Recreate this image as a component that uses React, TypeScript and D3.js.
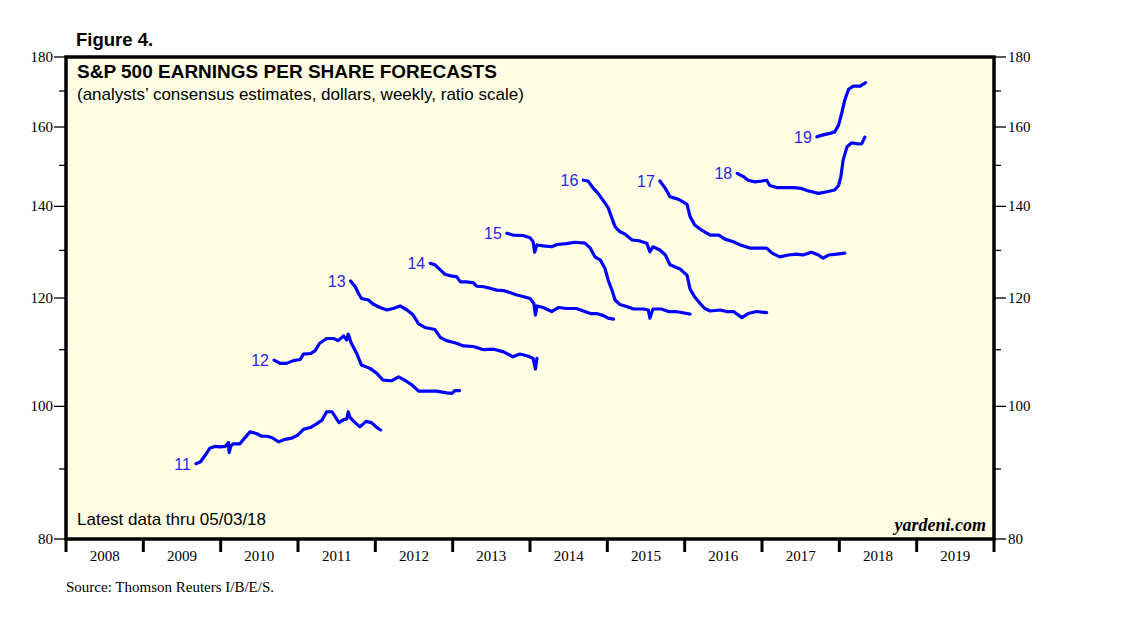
import React from 'react';
import * as d3 from 'd3';

type Pt = [number, number]; // [year, EPS estimate in dollars]

// weekly consensus estimates
const eps2011: Pt[] = [
  [2009.68, 90.8], [2009.74, 91.1], [2009.80, 92.1], [2009.86, 93.2], [2009.93, 93.5],
  [2009.99, 93.4], [2010.06, 93.5], [2010.10, 94.1], [2010.11, 92.5], [2010.13, 93.5],
  [2010.16, 93.9], [2010.25, 93.9], [2010.31, 94.8], [2010.38, 95.8], [2010.47, 95.5],
  [2010.53, 95.1], [2010.60, 95.1], [2010.66, 94.9], [2010.75, 94.2], [2010.83, 94.6],
  [2010.92, 94.8], [2011.00, 95.3], [2011.07, 96.2], [2011.16, 96.5], [2011.24, 97.1],
  [2011.31, 97.7], [2011.37, 99.1], [2011.44, 99.1], [2011.48, 98.3], [2011.53, 97.3],
  [2011.59, 97.8], [2011.63, 97.9], [2011.65, 99.1], [2011.67, 98.2], [2011.72, 97.5],
  [2011.80, 96.6], [2011.88, 97.5], [2011.95, 97.3], [2012.02, 96.5], [2012.07, 96.1],
];

const eps2012: Pt[] = [
  [2010.69, 108.1], [2010.77, 107.5], [2010.85, 107.5], [2010.94, 108.0], [2011.03, 108.2],
  [2011.07, 109.2], [2011.16, 109.3], [2011.22, 109.8], [2011.28, 111.2], [2011.37, 112.1],
  [2011.46, 112.1], [2011.52, 111.7], [2011.59, 112.6], [2011.63, 111.8], [2011.65, 112.9],
  [2011.69, 111.2], [2011.76, 109.3], [2011.82, 107.2], [2011.93, 106.6], [2012.02, 105.7],
  [2012.10, 104.5], [2012.21, 104.4], [2012.30, 105.1], [2012.38, 104.5], [2012.47, 103.7],
  [2012.56, 102.6], [2012.66, 102.6], [2012.79, 102.6], [2012.92, 102.3], [2012.99, 102.2],
  [2013.03, 102.7], [2013.09, 102.7],
];

const eps2013: Pt[] = [
  [2011.68, 123.5], [2011.74, 122.3], [2011.78, 121.0], [2011.82, 119.9], [2011.91, 119.6],
  [2011.97, 118.8], [2012.06, 118.1], [2012.15, 117.6], [2012.23, 117.9], [2012.32, 118.4],
  [2012.41, 117.6], [2012.49, 116.6], [2012.56, 114.9], [2012.64, 114.2], [2012.77, 113.8],
  [2012.84, 112.3], [2012.92, 111.7], [2013.05, 111.2], [2013.14, 110.7], [2013.27, 110.6],
  [2013.40, 110.0], [2013.53, 110.1], [2013.66, 109.6], [2013.78, 108.7], [2013.87, 109.2],
  [2013.98, 108.8], [2014.04, 108.4], [2014.07, 106.5], [2014.09, 108.4],
];

const eps2014: Pt[] = [
  [2012.71, 127.2], [2012.77, 126.9], [2012.84, 125.8], [2012.90, 124.9], [2012.99, 124.5],
  [2013.05, 124.4], [2013.10, 123.3], [2013.18, 123.3], [2013.27, 123.1], [2013.31, 122.4],
  [2013.40, 122.3], [2013.48, 122.0], [2013.57, 121.6], [2013.66, 121.5], [2013.74, 121.1],
  [2013.83, 120.6], [2013.91, 120.3], [2014.00, 119.9], [2014.05, 118.9], [2014.07, 116.6],
  [2014.09, 118.4], [2014.17, 118.1], [2014.28, 117.3], [2014.37, 118.1], [2014.47, 117.9],
  [2014.60, 117.9], [2014.69, 117.4], [2014.78, 116.9], [2014.86, 116.9], [2014.95, 116.5],
  [2015.01, 116.0], [2015.08, 115.8],
];

const eps2015: Pt[] = [
  [2013.70, 133.8], [2013.78, 133.4], [2013.91, 133.3], [2014.00, 132.8], [2014.04, 131.9],
  [2014.06, 129.6], [2014.09, 131.2], [2014.17, 131.0], [2014.28, 130.8], [2014.35, 131.3],
  [2014.47, 131.5], [2014.58, 131.8], [2014.71, 131.6], [2014.78, 130.5], [2014.84, 128.6],
  [2014.91, 127.9], [2014.97, 126.1], [2015.01, 123.7], [2015.06, 121.6], [2015.10, 119.6],
  [2015.16, 118.7], [2015.25, 118.3], [2015.34, 117.8], [2015.47, 117.8], [2015.53, 117.6],
  [2015.55, 116.0], [2015.59, 117.8], [2015.70, 117.8], [2015.79, 117.3], [2015.88, 117.3],
  [2015.96, 117.1], [2016.07, 116.8],
];

const eps2016: Pt[] = [
  [2014.69, 146.3], [2014.75, 146.1], [2014.82, 144.3], [2014.88, 143.1], [2014.95, 141.3],
  [2015.01, 139.7], [2015.06, 137.2], [2015.10, 135.3], [2015.16, 134.2], [2015.23, 133.6],
  [2015.32, 132.3], [2015.42, 132.1], [2015.51, 131.6], [2015.55, 129.7], [2015.59, 130.8],
  [2015.68, 130.1], [2015.75, 129.0], [2015.81, 126.9], [2015.94, 126.0], [2016.03, 124.7],
  [2016.07, 121.8], [2016.13, 120.2], [2016.20, 118.9], [2016.26, 117.9], [2016.33, 117.4],
  [2016.46, 117.6], [2016.54, 117.3], [2016.63, 117.3], [2016.74, 116.1], [2016.82, 116.9],
  [2016.93, 117.3], [2017.06, 117.1],
];

const eps2017: Pt[] = [
  [2015.68, 146.1], [2015.75, 144.3], [2015.81, 142.3], [2015.88, 141.9], [2015.94, 141.5],
  [2016.03, 140.5], [2016.07, 137.6], [2016.13, 135.7], [2016.22, 134.5], [2016.33, 133.4],
  [2016.44, 133.4], [2016.52, 132.5], [2016.63, 131.9], [2016.72, 131.2], [2016.85, 130.5],
  [2016.95, 130.5], [2017.06, 130.5], [2017.13, 129.4], [2017.23, 128.6], [2017.34, 129.0],
  [2017.45, 129.2], [2017.53, 129.0], [2017.64, 129.6], [2017.73, 129.0], [2017.79, 128.3],
  [2017.86, 129.0], [2017.97, 129.2], [2018.07, 129.4],
];

const eps2018: Pt[] = [
  [2016.68, 148.0], [2016.76, 147.2], [2016.82, 146.3], [2016.91, 145.9], [2017.00, 146.1],
  [2017.06, 146.3], [2017.10, 145.0], [2017.19, 144.5], [2017.30, 144.5], [2017.41, 144.5],
  [2017.51, 144.3], [2017.58, 143.8], [2017.73, 143.1], [2017.84, 143.5], [2017.94, 143.9],
  [2017.99, 145.0], [2018.02, 147.2], [2018.05, 151.4], [2018.10, 154.8], [2018.16, 155.8],
  [2018.25, 155.5], [2018.29, 155.6], [2018.33, 157.3],
];

const eps2019: Pt[] = [
  [2017.71, 157.4], [2017.79, 157.9], [2017.88, 158.3], [2017.94, 158.7], [2017.99, 160.5],
  [2018.03, 163.7], [2018.07, 167.4], [2018.12, 170.5], [2018.18, 171.4], [2018.27, 171.4],
  [2018.31, 172.0], [2018.34, 172.4],
];

const seriesLabels = ['11', '12', '13', '14', '15', '16', '17', '18', '19'];
const seriesData = [eps2011, eps2012, eps2013, eps2014, eps2015, eps2016, eps2017, eps2018, eps2019];

const yMajorTicks = [80, 100, 120, 140, 160, 180];
const yMinorTicks = [90, 110, 130, 150, 170];
const yearLabels = ['2008', '2009', '2010', '2011', '2012', '2013', '2014', '2015', '2016', '2017', '2018', '2019'];

const W = 1138;
const H = 621;
const plot = { left: 66, right: 994, top: 57, bottom: 539 };

const sans = '"Liberation Sans", Arial, sans-serif';
const serif = '"Liberation Serif", "Times New Roman", serif';

export default function App() {
  const x = d3.scaleLinear().domain([2008, 2020]).range([plot.left, plot.right]);
  const y = d3.scaleLog().domain([80, 180]).range([plot.bottom, plot.top]);

  const line = d3.line<Pt>()
    .x(d => x(d[0]))
    .y(d => y(d[1]));

  const yearTicks = d3.range(2008, 2021);

  return (
    <svg
      width={W}
      height={H}
      style={{ position: 'absolute', left: 0, top: 0, background: '#fff' }}
    >
      <text x={76} y={46} fontFamily={sans} fontWeight="bold" fontSize={18.5} fill="#000">
        Figure 4.
      </text>

      {/* plot frame */}
      <rect
        x={plot.left}
        y={plot.top}
        width={plot.right - plot.left}
        height={plot.bottom - plot.top}
        fill="#fffee4"
        stroke="#000"
        strokeWidth={3.5}
      />

      {/* y axis ticks, both sides */}
      {yMajorTicks.map(v => (
        <g key={'M' + v}>
          <line x1={plot.left - 12} x2={plot.left} y1={y(v)} y2={y(v)} stroke="#000" strokeWidth={1.3} />
          <line x1={plot.right} x2={plot.right + 12} y1={y(v)} y2={y(v)} stroke="#000" strokeWidth={1.3} />
          <text x={plot.left - 13} y={y(v) + 5} textAnchor="end" fontFamily={serif} fontSize={15}>{v}</text>
          <text x={plot.right + 14} y={y(v) + 5} textAnchor="start" fontFamily={serif} fontSize={15}>{v}</text>
        </g>
      ))}
      {yMinorTicks.map(v => (
        <g key={'m' + v}>
          <line x1={plot.left - 7} x2={plot.left} y1={y(v)} y2={y(v)} stroke="#000" strokeWidth={1.3} />
          <line x1={plot.right} x2={plot.right + 7} y1={y(v)} y2={y(v)} stroke="#000" strokeWidth={1.3} />
        </g>
      ))}

      {/* x axis: year boundary ticks and centred labels */}
      {yearTicks.map(t => (
        <line key={'t' + t} x1={x(t)} x2={x(t)} y1={plot.bottom} y2={plot.bottom + 13} stroke="#000" strokeWidth={3} />
      ))}
      {yearLabels.map((lab, i) => (
        <text key={lab} x={x(2008 + i + 0.5)} y={561} textAnchor="middle" fontFamily={serif} fontSize={15}>
          {lab}
        </text>
      ))}

      {/* titles inside frame */}
      <text x={77} y={78} fontFamily={sans} fontWeight="bold" fontSize={19} fill="#000">
        S&amp;P 500 EARNINGS PER SHARE FORECASTS
      </text>
      <text x={77} y={100} fontFamily={sans} fontSize={17} fill="#000">
        (analysts’ consensus estimates, dollars, weekly, ratio scale)
      </text>

      {/* series */}
      {seriesData.map((pts, i) => (
        <g key={seriesLabels[i]}>
          <path
            d={line(pts) || ''}
            fill="none"
            stroke="#0000ff"
            strokeWidth={3.2}
            strokeLinejoin="round"
            strokeLinecap="round"
          />
          <text
            x={x(pts[0][0]) - 5}
            y={y(pts[0][1]) + 6}
            textAnchor="end"
            fontFamily={sans}
            fontSize={16}
            fill="#2b1fe6"
          >
            {seriesLabels[i]}
          </text>
        </g>
      ))}

      <text x={77} y={525} fontFamily={sans} fontSize={17} fill="#000">
        Latest data thru 05/03/18
      </text>
      <text x={986} y={531} textAnchor="end" fontFamily={serif} fontStyle="italic" fontWeight="bold" fontSize={18}>
        yardeni.com
      </text>

      <text x={66} y={592} fontFamily={serif} fontSize={15}>
        Source: Thomson Reuters I/B/E/S.
      </text>
    </svg>
  );
}
